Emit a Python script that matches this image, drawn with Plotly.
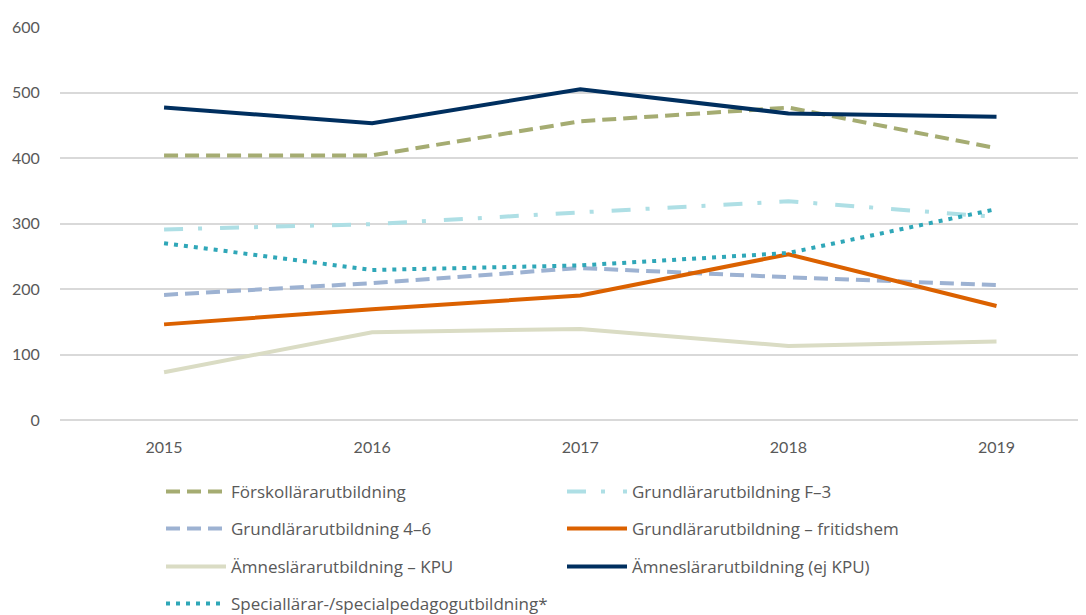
import plotly.graph_objects as go

years = ["2015", "2016", "2017", "2018", "2019"]

forskollarar = [404, 404, 456, 477, 415]
grundlarar_f3 = [291, 299, 317, 334, 310]
grundlarar_46 = [191, 209, 232, 218, 206]
grundlarar_fritids = [146, 169, 190, 253, 174]
amneslarar_kpu = [73, 134, 139, 113, 120]
amneslarar_ej_kpu = [477, 453, 505, 468, 463]
speciallarar = [270, 229, 236, 255, 322]

# name, values, colour, dash, legend row
series = [
    ("Förskollärarutbildning", forskollarar, "#A5AC72", "14px,7px", "legend"),
    ("Grundlärarutbildning F–3", grundlarar_f3, "#AEDFE5", "19px,15px,4px,18px", "legend"),
    ("Grundlärarutbildning 4–6", grundlarar_46, "#9DB2D2", "14px,7px", "legend2"),
    ("Grundlärarutbildning – fritidshem", grundlarar_fritids, "#DB6100", "solid", "legend2"),
    ("Ämneslärarutbildning – KPU", amneslarar_kpu, "#DADCC4", "solid", "legend3"),
    ("Ämneslärarutbildning (ej KPU)", amneslarar_ej_kpu, "#002F5F", "solid", "legend3"),
    ("Speciallärar-/specialpedagogutbildning*", speciallarar, "#2FA7B8", "4px,6px", "legend4"),
]

fig = go.Figure()
for name, vals, color, dash, leg in series:
    fig.add_trace(go.Scatter(
        x=years, y=vals, name=name, mode="lines",
        line=dict(color=color, width=4, dash=dash),
        legend=leg,
    ))

font_family = "Lato, 'Open Sans', sans-serif"
# the page body has an 8px margin, so the figure is 8px smaller each way
W, H = 1078, 607
plot_left, plot_top, plot_bottom = 52, 18.5, 412


def legend_cfg(center_px):
    return dict(
        orientation="h",
        xref="container", yref="container",
        x=153 / W, xanchor="left",
        y=1 - center_px / H, yanchor="middle",
        entrywidth=326, entrywidthmode="pixels",
        font=dict(size=17, color="#595959", family="'Open Sans', sans-serif"),
        itemwidth=60,
        bgcolor="rgba(0,0,0,0)",
    )


fig.update_layout(
    width=W, height=H,
    margin=dict(l=plot_left, r=0, t=plot_top, b=H - plot_bottom),
    paper_bgcolor="white", plot_bgcolor="white",
    font=dict(family=font_family, size=16, color="#595959"),
    xaxis=dict(
        type="category", range=[-0.5, 4.43],
        showgrid=False, zeroline=False, showline=False,
        ticks="outside", ticklen=13, tickcolor="rgba(0,0,0,0)",
        tickfont=dict(size=16, color="#595959"),
    ),
    yaxis=dict(
        range=[0, 600], dtick=100,
        showgrid=True, gridcolor="#D9D9D9", gridwidth=1.5,
        zeroline=True, zerolinecolor="#D9D9D9", zerolinewidth=1.5,
        showline=False,
        ticks="outside", ticklen=16, tickcolor="rgba(0,0,0,0)",
        tickfont=dict(size=16, color="#595959"),
    ),
    legend=legend_cfg(484),
    legend2=legend_cfg(521),
    legend3=legend_cfg(559),
    legend4=legend_cfg(596),
    showlegend=True,
)

fig.write_html("out.html")
